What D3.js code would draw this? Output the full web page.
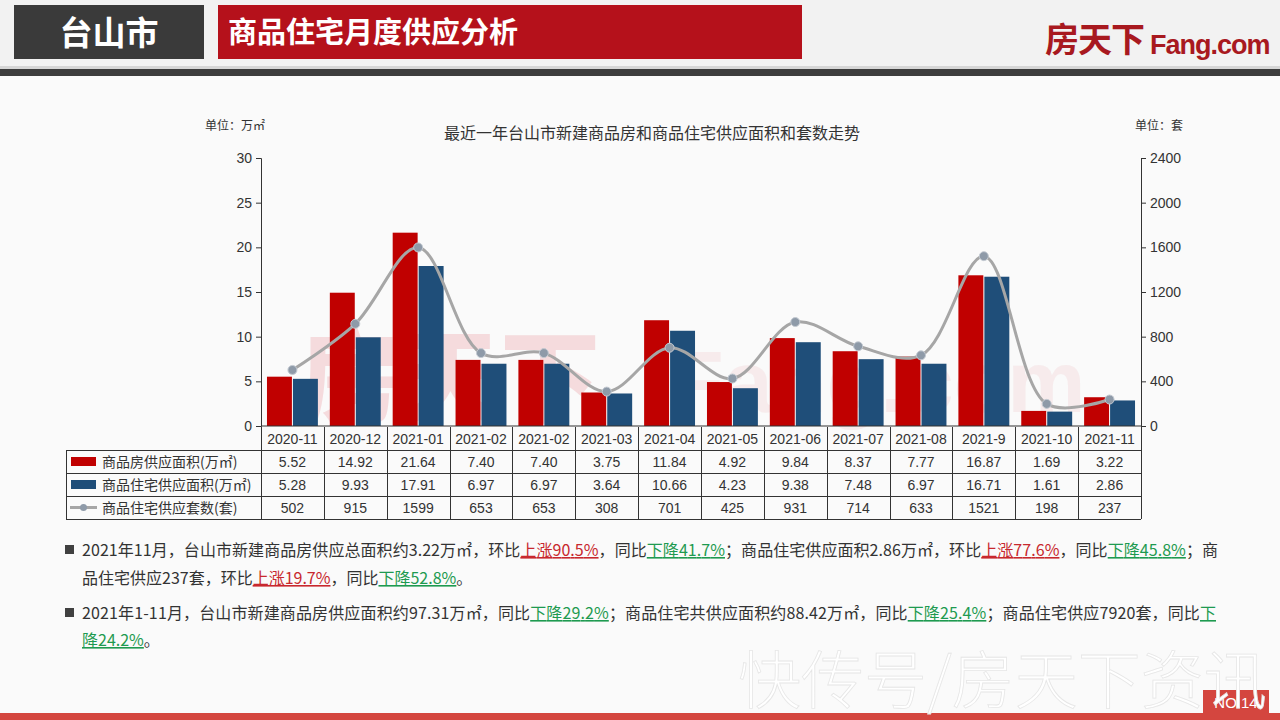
<!DOCTYPE html>
<html>
<head>
<meta charset="utf-8">
<script src="https://cdn.jsdelivr.net/npm/d3@7"></script>
<style>
  body { margin: 0; background: #fafafa; }
  svg { display: block; }
</style>
</head>
<body>
<div id="chart"></div>
<script>
// ---- data ----
const months = ["2020-11", "2020-12", "2021-01", "2021-02", "2021-02", "2021-03", "2021-04",
                "2021-05", "2021-06", "2021-07", "2021-08", "2021-9", "2021-10", "2021-11"];
const houseArea = [5.52, 14.92, 21.64, 7.40, 7.40, 3.75, 11.84, 4.92, 9.84, 8.37, 7.77, 16.87, 1.69, 3.22];
const resArea = [5.28, 9.93, 17.91, 6.97, 6.97, 3.64, 10.66, 4.23, 9.38, 7.48, 6.97, 16.71, 1.61, 2.86];
const resUnits = [502, 915, 1599, 653, 653, 308, 701, 425, 931, 714, 633, 1521, 198, 237];
const leftTicks = [0, 5, 10, 15, 20, 25, 30];
const rightTicks = [0, 400, 800, 1200, 1600, 2000, 2400];
const seriesNames = ["商品房供应面积(万㎡)", "商品住宅供应面积(万㎡)", "商品住宅供应套数(套)"];

const W = 1280, H = 720;
const red = "#c00000", blue = "#1f4e79", gray = "#a6a6a6";
const cjk = "'Noto Sans CJK SC', sans-serif";
const num = "'Liberation Sans', 'Noto Sans CJK SC', sans-serif";

const svg = d3.select("#chart").append("svg")
    .attr("width", W).attr("height", H)
    .attr("viewBox", [0, 0, W, H]);

// ---- page frame ----
svg.append("rect").attr("width", W).attr("height", 66).attr("fill", "#f2f2f2");
svg.append("rect").attr("y", 66).attr("width", W).attr("height", 3).attr("fill", "#d6d6d6");
svg.append("rect").attr("y", 69).attr("width", W).attr("height", 7).attr("fill", "#3d3d3d");

svg.append("rect").attr("x", 14).attr("y", 5).attr("width", 190).attr("height", 54).attr("fill", "#3a3a3a");
svg.append("text").attr("x", 109).attr("y", 45).attr("text-anchor", "middle")
    .attr("font-family", cjk).attr("font-weight", 700).attr("font-size", 33).attr("fill", "#fff")
    .text("台山市");
svg.append("rect").attr("x", 218).attr("y", 5).attr("width", 584).attr("height", 54).attr("fill", "#b5111b");
svg.append("text").attr("x", 228).attr("y", 43).attr("font-family", cjk).attr("font-weight", 700)
    .attr("font-size", 29).attr("fill", "#fff").text("商品住宅月度供应分析");

svg.append("text").attr("x", 1045).attr("y", 52).attr("font-family", cjk).attr("font-weight", 700)
    .attr("font-size", 34).attr("fill", "#a8191f").attr("letter-spacing", -1).text("房天下");
svg.append("text").attr("x", 1150).attr("y", 54).attr("font-family", "'Liberation Sans Narrow', 'Liberation Sans', sans-serif")
    .attr("font-weight", 700).attr("font-size", 27).attr("fill", "#a8191f").attr("letter-spacing", -1)
    .text("Fang.com");

// faint logo watermark behind the chart
const wm = svg.append("g").attr("fill", "#f3cfd2").attr("opacity", 0.7);
wm.append("text").attr("x", 300).attr("y", 414).attr("font-family", cjk).attr("font-weight", 900)
    .attr("font-size", 100).text("房天下");
wm.append("text").attr("x", 670).attr("y", 412).attr("font-family", num).attr("font-weight", 700)
    .attr("font-size", 88).attr("opacity", 0.45).text("Fang.com");

// ---- scales ----
const plotL = 261, plotR = 1141, plotT = 158, plotB = 426;
const x = d3.scaleBand(d3.range(months.length), [plotL, plotR]);
const xSub = d3.scaleBand(["house", "res"], [0, x.bandwidth()]).paddingInner(0.04).paddingOuter(0.23);
const yL = d3.scaleLinear([0, 30], [plotB, plotT]);
const yR = d3.scaleLinear([0, 2400], [plotB, plotT]);

// ---- titles ----
svg.append("text").attr("x", 652).attr("y", 139).attr("text-anchor", "middle")
    .attr("font-family", cjk).attr("font-size", 16).attr("fill", "#333")
    .text("最近一年台山市新建商品房和商品住宅供应面积和套数走势");
svg.append("text").attr("x", 205).attr("y", 130).attr("font-family", cjk).attr("font-size", 12)
    .attr("fill", "#333").text("单位：万㎡");
svg.append("text").attr("x", 1183).attr("y", 130).attr("text-anchor", "end").attr("font-family", cjk)
    .attr("font-size", 12).attr("fill", "#333").text("单位：套");

// ---- bars ----
const bars = svg.append("g");
bars.selectAll(".house").data(houseArea).join("rect")
    .attr("x", (d, i) => x(i) + xSub("house")).attr("width", xSub.bandwidth())
    .attr("y", d => yL(d)).attr("height", d => yL(0) - yL(d)).attr("fill", red);
bars.selectAll(".res").data(resArea).join("rect")
    .attr("x", (d, i) => x(i) + xSub("res")).attr("width", xSub.bandwidth())
    .attr("y", d => yL(d)).attr("height", d => yL(0) - yL(d)).attr("fill", blue);

// ---- line ----
const cx = i => x(i) + x.bandwidth() / 2;
const line = d3.line().x((d, i) => cx(i)).y(d => yR(d)).curve(d3.curveCatmullRom.alpha(0.5));
svg.append("path").attr("d", line(resUnits)).attr("fill", "none")
    .attr("stroke", gray).attr("stroke-width", 3);
svg.append("g").selectAll("circle").data(resUnits).join("circle")
    .attr("cx", (d, i) => cx(i)).attr("cy", d => yR(d)).attr("r", 4.5)
    .attr("fill", "#8e9aa8").attr("stroke", "#c4cad2").attr("stroke-width", 1);

// ---- axes ----
const axisStyle = g => {
  g.selectAll("text").attr("font-family", num).attr("font-size", 14).attr("fill", "#333");
  g.selectAll("line, path").attr("stroke", "#333");
};
svg.append("g").attr("transform", `translate(${plotL},0)`)
    .call(d3.axisLeft(yL).tickValues(leftTicks).tickSize(5).tickSizeOuter(5).tickPadding(4))
    .call(axisStyle);
svg.append("g").attr("transform", `translate(${plotR},0)`)
    .call(d3.axisRight(yR).tickValues(rightTicks).tickFormat(d3.format("d")).tickSize(5).tickSizeOuter(5).tickPadding(4))
    .call(axisStyle);
svg.append("line").attr("x1", plotL).attr("x2", plotR).attr("y1", plotB).attr("y2", plotB)
    .attr("stroke", "#333");

// ---- data table ----
const rowsY = [427, 450, 473, 496, 519];
const tableL = 66;
const table = svg.append("g").attr("font-family", num).attr("font-size", 14).attr("fill", "#333");
const lineAttr = s => s.attr("stroke", "#333").attr("stroke-width", 1).attr("shape-rendering", "crispEdges");

table.selectAll(".hl").data(rowsY.slice(1)).join("line")
    .attr("x1", tableL).attr("x2", plotR).attr("y1", d => d + 0.5).attr("y2", d => d + 0.5).call(lineAttr);
table.append("line").attr("x1", tableL + 0.5).attr("x2", tableL + 0.5)
    .attr("y1", rowsY[1]).attr("y2", rowsY[4]).call(lineAttr);
table.selectAll(".vl").data(d3.range(months.length + 1)).join("line")
    .attr("x1", i => Math.round(plotL + i * x.step()) + 0.5).attr("x2", i => Math.round(plotL + i * x.step()) + 0.5)
    .attr("y1", rowsY[0]).attr("y2", rowsY[4]).call(lineAttr);

table.selectAll(".cat").data(months).join("text")
    .attr("x", (d, i) => cx(i)).attr("y", rowsY[0] + 17).attr("text-anchor", "middle").text(d => d);

const fmt2 = d3.format(".2f");
const rowData = [houseArea.map(fmt2), resArea.map(fmt2), resUnits.map(String)];
rowData.forEach((vals, r) => {
  table.append("g").selectAll("text").data(vals).join("text")
      .attr("x", (d, i) => cx(i)).attr("y", rowsY[r + 1] + 17).attr("text-anchor", "middle").text(d => d);
  table.append("text").attr("x", 102).attr("y", rowsY[r + 1] + 17).attr("font-family", cjk)
      .attr("font-size", 14).text(seriesNames[r]);
});
[red, blue].forEach((c, r) => {
  table.append("rect").attr("x", 71).attr("y", rowsY[r + 1] + 7).attr("width", 25).attr("height", 9).attr("fill", c);
});
table.append("line").attr("x1", 70).attr("x2", 97).attr("y1", rowsY[3] + 11.5).attr("y2", rowsY[3] + 11.5)
    .attr("stroke", gray).attr("stroke-width", 3);
table.append("circle").attr("cx", 83.5).attr("cy", rowsY[3] + 11.5).attr("r", 3.5).attr("fill", "#8e9aa8");

// ---- notes ----
const notes = [
  {y: 556, len: 1136, parts: [["2021年11月，台山市新建商品房供应总面积约3.22万㎡，环比"], ["上涨90.5%", "up"], ["，同比"], ["下降41.7%", "down"],
     ["；商品住宅供应面积2.86万㎡，环比"], ["上涨77.6%", "up"], ["，同比"], ["下降45.8%", "down"], ["；商"]], bullet: true},
  {y: 584, parts: [["品住宅供应237套，环比"], ["上涨19.7%", "up"], ["，同比"], ["下降52.8%", "down"], ["。"]]},
  {y: 619, len: 1134, parts: [["2021年1-11月，台山市新建商品房供应面积约97.31万㎡，同比"], ["下降29.2%", "down"], ["；商品住宅共供应面积约88.42万㎡，同比"],
     ["下降25.4%", "down"], ["；商品住宅供应7920套，同比"], ["下", "down"]], bullet: true},
  {y: 646, parts: [["降24.2%", "down"], ["。"]]}
];
const colors = {up: "#c8282e", down: "#1e9a50"};
notes.forEach(n => {
  if (n.bullet) {
    svg.append("rect").attr("x", 65).attr("y", n.y - 11).attr("width", 9).attr("height", 9).attr("fill", "#404040");
  }
  const t = svg.append("text").attr("x", 82).attr("y", n.y).attr("font-family", cjk)
      .attr("font-size", 16).attr("fill", "#333");
  if (n.len) t.attr("textLength", n.len).attr("lengthAdjust", "spacing");
  n.parts.forEach(([s, k]) => {
    const sp = t.append("tspan").text(s);
    if (k) sp.attr("fill", colors[k]).style("text-decoration", "underline");
  });
});

// ---- footer ----
svg.append("rect").attr("y", 713).attr("width", W).attr("height", 7).attr("fill", "#d4463f");
svg.append("rect").attr("x", 1203).attr("y", 690).attr("width", 66).attr("height", 24).attr("fill", "#d4463f");
svg.append("text").attr("x", 1236).attr("y", 708).attr("text-anchor", "middle").attr("font-family", num)
    .attr("font-size", 15).attr("fill", "#fff").text("NO.14");
svg.append("text").attr("x", 738).attr("y", 703).attr("font-family", cjk).attr("font-weight", 300)
    .attr("font-size", 63).attr("fill", "#fff").attr("stroke", "#e6e6e6").attr("stroke-width", 0.8)
    .text("快传号/房天下资讯");
</script>
</body>
</html>
